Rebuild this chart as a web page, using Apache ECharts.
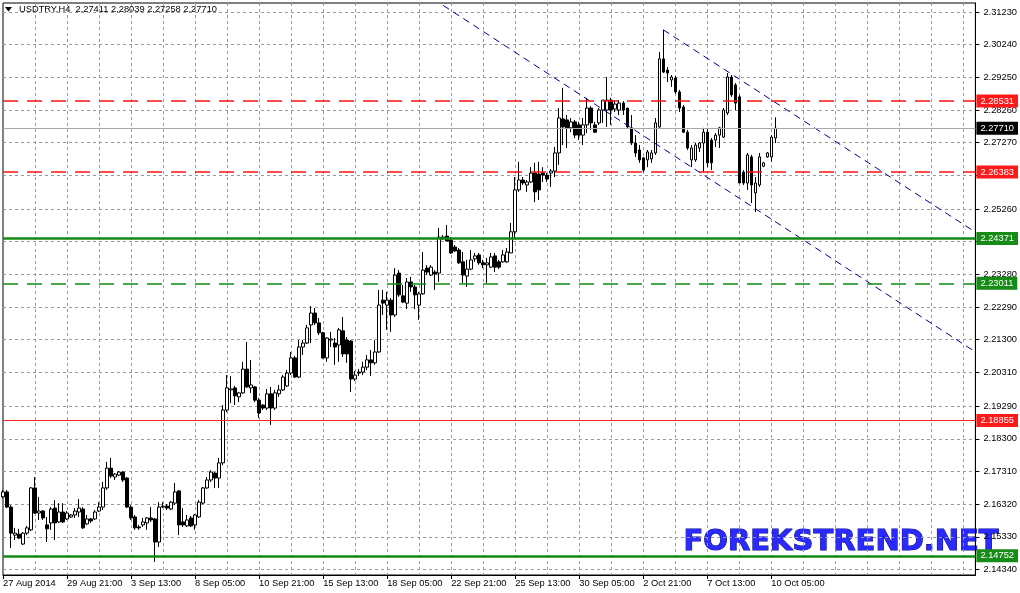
<!DOCTYPE html>
<html><head><meta charset="utf-8">
<script src="https://cdn.jsdelivr.net/npm/echarts@6/dist/echarts.min.js"></script>
<style>html,body{margin:0;padding:0;background:#fff}#c{width:1020px;height:593px}</style>
</head><body><div id="c"></div>
<script>
// ---- data (USDTRY H4) ----
const opens = [2.1654,2.1669,2.1623,2.1538,2.1541,2.1511,2.1544,2.1554,2.1681,2.1605,2.1611,2.1569,2.1575,2.1620,2.1578,2.1608,2.1587,2.1593,2.1599,2.1608,
2.1617,2.1572,2.1587,2.1587,2.1611,2.1623,2.1681,2.1741,2.1714,2.1720,2.1729,2.1711,2.1623,2.1593,2.1563,2.1569,2.1575,2.1590,2.1587,2.1517,
2.1623,2.1626,2.1617,2.1635,2.1672,2.1578,2.1566,2.1590,2.1569,2.1593,2.1635,2.1681,2.1705,2.1726,2.1711,2.1757,2.1917,2.1978,2.1984,2.1957,
2.1969,2.2041,2.1984,2.1987,2.1947,2.1932,2.1923,2.1966,2.1923,2.1966,2.1978,2.1990,2.2029,2.2075,2.2017,2.2108,2.2120,2.2175,2.2211,2.2181,
2.2151,2.2075,2.2129,2.2120,2.2114,2.2157,2.2129,2.2126,2.2011,2.2032,2.2032,2.2047,2.2069,2.2060,2.2093,2.2250,2.2235,2.2250,2.2205,2.2332,
2.2263,2.2241,2.2305,2.2290,2.2235,2.2269,2.2347,2.2326,2.2335,2.2332,2.2438,2.2444,2.2432,2.2411,2.2402,2.2366,2.2323,2.2344,2.2375,2.2387,
2.2363,2.2357,2.2350,2.2384,2.2366,2.2366,2.2366,2.2393,2.2457,2.2584,2.2614,2.2599,2.2608,2.2635,2.2632,2.2635,2.2629,2.2635,2.2641,2.2696,
2.2799,2.2796,2.2772,2.2790,2.2781,2.2750,2.2781,2.2832,2.2781,2.2787,2.2826,2.2826,2.2856,2.2829,2.2826,2.2847,2.2832,2.2772,2.2726,2.2705,
2.2681,2.2675,2.2678,2.2696,2.2775,2.2981,2.2947,2.2917,2.2923,2.2881,2.2835,2.2759,2.2675,2.2675,2.2711,2.2726,2.2759,2.2735,2.2735,2.2750,
2.2744,2.2817,2.2926,2.2902,2.2866,2.2638,2.2605,2.2684,2.2575,2.2599,2.2656,2.2684,2.2684,2.27411];
const closes = [2.1669,2.1623,2.1544,2.1544,2.1529,2.1544,2.1560,2.1681,2.1605,2.1611,2.1590,2.1557,2.1617,2.1575,2.1608,2.1578,2.1605,2.1599,2.1611,2.1620,
2.1560,2.1587,2.1581,2.1608,2.1623,2.1681,2.1741,2.1717,2.1723,2.1729,2.1705,2.1623,2.1590,2.1560,2.1560,2.1578,2.1590,2.1584,2.1517,2.1623,
2.1626,2.1620,2.1638,2.1669,2.1569,2.1569,2.1584,2.1566,2.1599,2.1638,2.1681,2.1705,2.1729,2.1711,2.1757,2.1917,2.1984,2.1981,2.1960,2.1969,
2.2041,2.1987,2.1993,2.1947,2.1908,2.1923,2.1966,2.1923,2.1969,2.1978,2.2017,2.2029,2.2075,2.2017,2.2108,2.2120,2.2166,2.2211,2.2181,2.2151,
2.2075,2.2135,2.2132,2.2108,2.2160,2.2087,2.2087,2.2011,2.2023,2.2029,2.2047,2.2069,2.2060,2.2093,2.2235,2.2241,2.2250,2.2205,2.2326,2.2266,
2.2244,2.2305,2.2290,2.2266,2.2269,2.2341,2.2335,2.2350,2.2329,2.2441,2.2441,2.2429,2.2393,2.2399,2.2363,2.2326,2.2344,2.2372,2.2384,2.2363,
2.2357,2.2363,2.2381,2.2350,2.2350,2.2387,2.2396,2.2457,2.2584,2.2614,2.2605,2.2608,2.2635,2.2578,2.2584,2.2629,2.2617,2.2641,2.2696,2.2802,
2.2775,2.2772,2.2790,2.2750,2.2750,2.2781,2.2832,2.2787,2.2759,2.2826,2.2856,2.2856,2.2826,2.2844,2.2847,2.2826,2.2775,2.2726,2.2696,2.2675,
2.2644,2.2699,2.2696,2.2787,2.2981,2.2941,2.2938,2.2926,2.2881,2.2832,2.2759,2.2711,2.2711,2.2720,2.2726,2.2759,2.2666,2.2666,2.2750,2.2772,
2.2826,2.2926,2.2872,2.2847,2.2605,2.2605,2.2690,2.2599,2.2605,2.2684,2.2666,2.2696,2.2744,2.27710];
const lows = [2.1650,2.1620,2.1499,2.1523,2.1526,2.1508,2.1538,2.1550,2.1602,2.1584,2.1584,2.1517,2.1554,2.1523,2.1575,2.1575,2.1584,2.1590,2.1590,2.1593,
2.1557,2.1569,2.1575,2.1584,2.1608,2.1614,2.1675,2.1711,2.1705,2.1717,2.1699,2.1620,2.1584,2.1554,2.1554,2.1563,2.1554,2.1578,2.1457,2.1502,
2.1620,2.1614,2.1614,2.1629,2.1538,2.1563,2.1563,2.1563,2.1554,2.1590,2.1632,2.1678,2.1699,2.1681,2.1681,2.1750,2.1911,2.1938,2.1932,2.1941,
2.1966,2.1984,2.1969,2.1941,2.1893,2.1917,2.1917,2.1872,2.1917,2.1957,2.1975,2.1987,2.2023,2.2014,2.2014,2.2084,2.2117,2.2120,2.2175,2.2144,
2.2072,2.2063,2.2108,2.2054,2.2063,2.2078,2.2060,2.1972,2.2005,2.2020,2.2023,2.2038,2.2020,2.2054,2.2090,2.2205,2.2160,2.2154,2.2199,2.2260,
2.2241,2.2223,2.2275,2.2223,2.2190,2.2266,2.2326,2.2323,2.2281,2.2305,2.2432,2.2429,2.2390,2.2396,2.2360,2.2302,2.2290,2.2341,2.2366,2.2357,
2.2347,2.2302,2.2347,2.2335,2.2344,2.2363,2.2363,2.2393,2.2438,2.2578,2.2599,2.2578,2.2605,2.2547,2.2553,2.2608,2.2608,2.2593,2.2623,2.2660,
2.2720,2.2711,2.2759,2.2741,2.2735,2.2720,2.2756,2.2766,2.2756,2.2781,2.2787,2.2775,2.2781,2.2820,2.2811,2.2811,2.2772,2.2720,2.2684,2.2666,
2.2638,2.2653,2.2666,2.2690,2.2772,2.2938,2.2911,2.2896,2.2875,2.2820,2.2756,2.2705,2.2653,2.2669,2.2699,2.2638,2.2653,2.2644,2.2714,2.2711,
2.2741,2.2811,2.2866,2.2826,2.2605,2.2599,2.2584,2.2544,2.2517,2.2593,2.2653,2.2681,2.2669,2.27258];
const highs = [2.1675,2.1675,2.1629,2.1560,2.1557,2.1547,2.1566,2.1684,2.1714,2.1654,2.1614,2.1593,2.1623,2.1644,2.1635,2.1635,2.1611,2.1602,2.1620,2.1647,
2.1623,2.1599,2.1590,2.1614,2.1638,2.1699,2.1760,2.1772,2.1726,2.1732,2.1732,2.1714,2.1629,2.1599,2.1569,2.1590,2.1593,2.1623,2.1590,2.1638,
2.1638,2.1632,2.1641,2.1696,2.1675,2.1620,2.1599,2.1596,2.1602,2.1644,2.1684,2.1714,2.1735,2.1729,2.1772,2.1932,2.2023,2.2020,2.1990,2.1972,
2.2063,2.2123,2.2069,2.1990,2.1954,2.1935,2.1981,2.1987,2.1978,2.1993,2.2023,2.2038,2.2093,2.2081,2.2129,2.2129,2.2175,2.2232,2.2226,2.2196,
2.2154,2.2138,2.2154,2.2135,2.2166,2.2199,2.2138,2.2129,2.2035,2.2041,2.2063,2.2084,2.2099,2.2129,2.2281,2.2281,2.2275,2.2256,2.2347,2.2341,
2.2296,2.2317,2.2320,2.2296,2.2275,2.2396,2.2356,2.2356,2.2341,2.2469,2.2447,2.2478,2.2441,2.2417,2.2408,2.2396,2.2372,2.2402,2.2393,2.2393,
2.2372,2.2378,2.2393,2.2393,2.2372,2.2402,2.2408,2.2484,2.2623,2.2669,2.2623,2.2614,2.2653,2.2666,2.2669,2.2653,2.2635,2.2647,2.2714,2.2832,
2.2893,2.2811,2.2802,2.2796,2.2790,2.2802,2.2863,2.2838,2.2790,2.2832,2.2856,2.2926,2.2863,2.2856,2.2856,2.2853,2.2832,2.2811,2.2750,2.2720,
2.2684,2.2705,2.2705,2.2802,2.3002,2.3069,2.2956,2.2932,2.2929,2.2887,2.2841,2.2766,2.2720,2.2726,2.2729,2.2772,2.2772,2.2741,2.2756,2.2775,
2.2832,2.2938,2.2932,2.2908,2.2872,2.2644,2.2696,2.2690,2.2623,2.2696,2.2669,2.2699,2.2750,2.28039];

const xTickLabels = ['27 Aug 2014','29 Aug 21:00','3 Sep 13:00','8 Sep 05:00','10 Sep 21:00','15 Sep 13:00','18 Sep 05:00',
  '22 Sep 21:00','25 Sep 13:00','30 Sep 05:00','2 Oct 21:00','7 Oct 13:00','10 Oct 05:00'];
const yTickValues = [2.1434,2.1533,2.1632,2.1731,2.1830,2.1929,2.2031,2.2130,2.2229,2.2328,2.2427,2.2526,2.2627,2.2727,2.2826,2.2925,2.3024,2.3123];
const yLabelValues = [2.1434,2.1533,2.1632,2.1731,2.1830,2.1929,2.2031,2.2130,2.2229,2.2328,2.2526,2.2727,2.2826,2.2925,2.3024,2.3123];

// horizontal levels
const levelPrices = [2.28531, 2.27710, 2.26383, 2.24371, 2.23011, 2.18855, 2.14752];
const levelKinds  = ['redDash','bid','redDash','greenSolid','greenDash','redSolid','greenSolid'];
// channel lines [[barIndex, price],[barIndex, price]]
const channelLower = [[110, 2.3143], [243, 2.2093]];
const channelUpper = [[165, 2.3069], [243, 2.2456]];

const slotCount = 244;
const barTickStep = 16;
const gridStep = 8;

const months = ['Jan','Feb','Mar','Apr','May','Jun','Jul','Aug','Sep','Oct','Nov','Dec'];
const categories = [];
let t = Date.UTC(2014, 7, 27, 5);
while (categories.length < slotCount) {
  const d = new Date(t);
  const wd = d.getUTCDay();
  if (wd !== 0 && wd !== 6) categories.push(d.getUTCDate() + ' ' + months[d.getUTCMonth()] + ' ' + String(d.getUTCHours()).padStart(2,'0') + ':00');
  t += 4 * 3600 * 1000;
}
const lastLabelIdx = barTickStep * (xTickLabels.length - 1);
const candles = opens.map((o, i) => [o, closes[i], lows[i], highs[i]]);

const font = '"Liberation Sans", Arial, sans-serif';
const kindStyle = {
  redDash:   {line: {color:'#ff1010', width:1.6, type:[15,9]}, bg:'#ff1a1a'},
  redSolid:  {line: {color:'#ff2020', width:1, type:'solid'}, bg:'#ff1a1a'},
  greenSolid:{line: {color:'#138a13', width:2.5, type:'solid'}, bg:'#168c16'},
  greenDash: {line: {color:'#138a13', width:1.6, type:[15,9]}, bg:'#168c16'},
  bid:       {line: {color:'#a8a8a8', width:1, type:'solid'}, bg:'#000000'}
};
const markData = levelPrices.map((p, i) => {
  const s = kindStyle[levelKinds[i]];
  return {
    yAxis: p,
    lineStyle: s.line,
    label: {show:true, position:'end', distance:1, formatter: p.toFixed(5), color:'#fff',
      backgroundColor: s.bg, padding:[2,4,2,4], fontSize:9.3, fontFamily:font}
  };
});

const chart = echarts.init(document.getElementById('c'));
chart.setOption({
  animation: false,
  backgroundColor: '#ffffff',
  grid: {left:3, top:3, right:43, bottom:18, show:true, borderColor:'#000', borderWidth:1, backgroundColor:'#fff'},
  xAxis: {
    type:'category', data: categories, boundaryGap:false,
    axisLine:{show:true, lineStyle:{color:'#000', width:1}},
    axisTick:{show:true, length:4, lineStyle:{color:'#000'}, interval:(i)=> i % barTickStep === 0 && i <= lastLabelIdx},
    axisLabel:{show:true, interval:(i)=> i % barTickStep === 0 && i <= lastLabelIdx, align:'left', margin:4,
      fontSize:9.3, fontFamily:font, color:'#000',
      formatter:(v, i)=> xTickLabels[i / barTickStep] || ''},
    splitLine:{show:true, interval:(i)=> i % gridStep === 0 && i > 0, lineStyle:{color:'#9a9a9a', type:[3,3], width:1}}
  },
  yAxis: {
    type:'value', position:'right', min:2.14172, max:2.31503, scale:true,
    axisLine:{show:true, lineStyle:{color:'#000', width:1}},
    axisTick:{show:true, length:4, inside:false, lineStyle:{color:'#000'}, customValues: yTickValues},
    axisLabel:{show:true, margin:8, fontSize:9.3, fontFamily:font, color:'#000', customValues: yLabelValues,
      formatter:(v)=> v.toFixed(5)},
    splitLine:{show:true, lineStyle:{color:'#9a9a9a', type:[3,3], width:1}}
  },
  series: [
    {
      type:'candlestick', data: candles, barWidth:3,
      itemStyle:{color:'#ffffff', color0:'#000000', borderColor:'#000000', borderColor0:'#000000', borderWidth:1},
      markLine:{symbol:['none','none'], silent:true, precision:5, data: markData, animation:false}
    },
    {type:'line', data: channelLower, symbol:'none', silent:true, lineStyle:{color:'#00009a', width:1, type:[7,5]}},
    {type:'line', data: channelUpper, symbol:'none', silent:true, lineStyle:{color:'#00009a', width:1, type:[7,5]}}
  ],
  graphic: [
    {type:'polygon', shape:{points:[[5,7],[12,7],[8.5,11.5]]}, style:{fill:'#000'}},
    {type:'text', left:19, top:5, style:{text:'USDTRY,H4  2.27411 2.28039 2.27258 2.27710', font:'9.3px ' + font, fill:'#000'}},
    {type:'text', left:683, top:527, style:{text:'FOREKSTREND.NET', font:'bold 29px "DejaVu Sans", sans-serif', fill:'#2a2aff', stroke:'#00007a', lineWidth:1}}
  ]
});
</script></body></html>
